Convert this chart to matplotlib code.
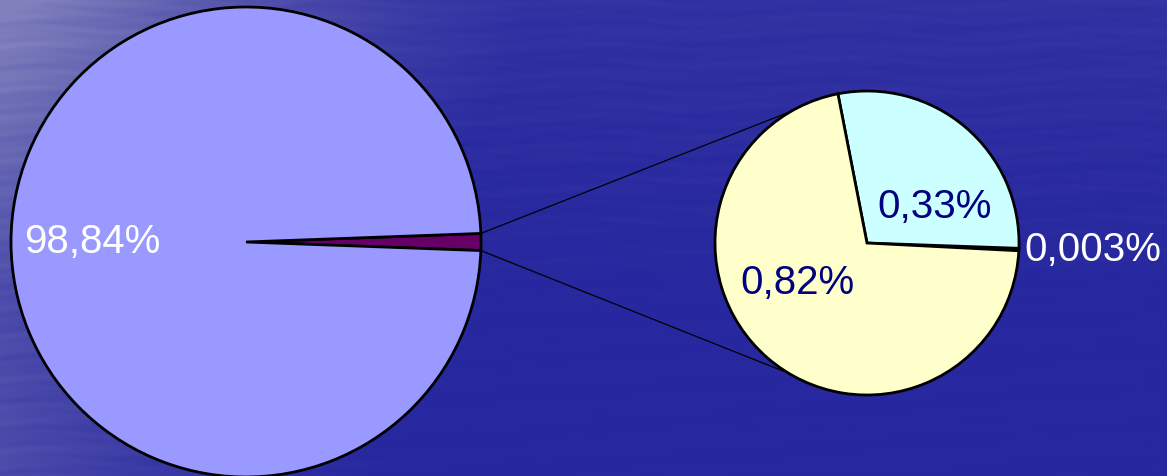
import numpy as np
import matplotlib.pyplot as plt

W, H = 1167, 476

# main pie: the small slice is broken out into the second pie
main_labels = ['98,84%', '']
main_values = [1.16, 98.84]
main_colors = ['#660066', '#9999ff']

# second pie, counter-clockwise from the right
sub_labels = ['0,003%', '0,33%', '0,82%']
sub_values = [0.003, 0.33, 0.82]
sub_colors = ['#ffffcc', '#ccffff', '#ffffcc']
sub_text_colors = ['white', '#000080', '#000080']


def background(ax):
    yy, xx = np.mgrid[0:H, 0:W]
    # lighter towards the left edge and the upper left corner
    side = np.clip(1 - xx / 420.0, 0, 1) ** 1.5 * 0.42
    corner = np.clip(1 - np.hypot(xx / 520.0, yy / 300.0), 0, 1) * 0.5
    top = np.clip(1 - yy / 300.0, 0, 1) * 0.12
    streak = (0.025 * np.sin(yy / 2.3 + 1.7 * np.sin(xx / 41.0))
              + 0.025 * np.sin(yy / 5.9 + xx / 77.0)
              + 0.015 * np.sin(yy / 1.4 + 2.3 * np.sin(xx / 23.0))) * (0.5 + side + corner)
    base = np.array([0x27, 0x27, 0x9f]) / 255.0
    light = np.array([0x80, 0x80, 0xbc]) / 255.0
    t = np.clip(side + corner + top + streak, 0, 1)[..., None]
    img = base * (1 - t) + light * t
    ax.imshow(np.clip(img, 0, 1), extent=(0, W, 0, H), origin='upper', zorder=0)


def main():
    fig = plt.figure(figsize=(W / 100, H / 100), dpi=100)
    ax = fig.add_axes([0, 0, 1, 1])
    ax.axis('off')
    background(ax)

    c1, r1 = (246, H - 242), 235
    c2, r2 = (867, H - 243), 152

    small = main_values[0] / sum(main_values) * 360
    ax.pie(main_values, colors=main_colors, center=c1, radius=r1,
           startangle=-small / 2, counterclock=True,
           wedgeprops=dict(edgecolor='black', linewidth=2.0), frame=True)
    ax.text(c1[0] - 0.655 * r1, c1[1], main_labels[0], color='white',
            fontsize=29, ha='center', va='center', family='Liberation Sans')

    start = -2.0 - sub_values[0] / sum(sub_values) * 360
    ax.pie(sub_values, colors=sub_colors, center=c2, radius=r2,
           startangle=start, counterclock=True,
           wedgeprops=dict(edgecolor='black', linewidth=2.0), frame=True)

    # connector lines from the small slice to the second pie
    for sgn, ang in [(1, 120), (-1, -121)]:
        a1 = np.radians(sgn * small / 2)
        a2 = np.radians(ang)
        ax.plot([c1[0] + r1 * np.cos(a1), c2[0] + r2 * np.cos(a2)],
                [c1[1] + r1 * np.sin(a1), c2[1] + r2 * np.sin(a2)],
                color='black', linewidth=0.9, zorder=1)

    pos = [(1093, H - 250), (935, H - 207), (797, H - 283)]
    for lab, col, (x, y) in zip(sub_labels, sub_text_colors, pos):
        ax.text(x, y, lab, color=col, fontsize=29, ha='center', va='center',
                family='Liberation Sans')

    ax.set_xlim(0, W)
    ax.set_ylim(0, H)
    ax.set_aspect('auto')
    fig.savefig('out.png', dpi=100)


if __name__ == '__main__':
    main()
